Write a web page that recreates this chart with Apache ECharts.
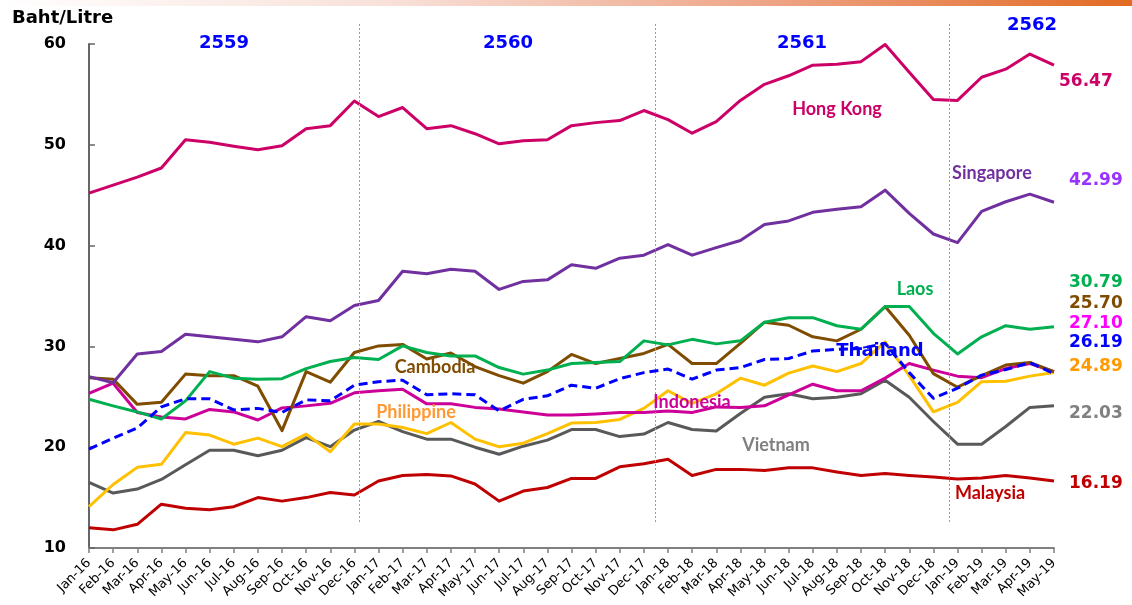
<!DOCTYPE html>
<html><head><meta charset="utf-8">
<script src="https://cdn.jsdelivr.net/npm/echarts@6/dist/echarts.min.js"></script>
<style>html,body{margin:0;padding:0;background:#fff}#c{width:1132px;height:605px}</style>
</head><body><div id="c"></div>
<script>
var months = ['Jan-16','Feb-16','Mar-16','Apr-16','May-16','Jun-16','Jul-16','Aug-16','Sep-16','Oct-16','Nov-16','Dec-16',
'Jan-17','Feb-17','Mar-17','Apr-17','May-17','Jun-17','Jul-17','Aug-17','Sep-17','Oct-17','Nov-17','Dec-17',
'Jan-18','Feb-18','Mar-18','Apr-18','May-18','Jun-18','Jul-18','Aug-18','Sep-18','Oct-18','Nov-18','Dec-18',
'Jan-19','Feb-19','Mar-19','Apr-19','May-19'];

var hongKong = [45.2,46.0,46.8,47.7,50.5,50.25,49.85,49.5,49.9,51.6,51.9,54.35,
52.8,53.7,51.6,51.9,51.1,50.1,50.4,50.5,51.9,52.2,52.4,53.4,
52.5,51.15,52.3,54.4,56.0,56.85,57.9,58.0,58.25,59.95,57.2,54.5,
54.4,56.7,57.5,59.0,57.9];
var singapore = [27.0,26.4,29.25,29.5,31.2,30.95,30.7,30.45,30.95,32.95,32.55,34.05,
34.55,37.45,37.2,37.65,37.45,35.65,36.45,36.6,38.1,37.75,38.75,39.05,
40.1,39.05,39.8,40.5,42.1,42.45,43.3,43.6,43.85,45.5,43.2,41.15,
40.3,43.4,44.35,45.1,44.3];
var laos = [24.75,24.1,23.5,22.8,24.6,27.5,26.85,26.75,26.8,27.8,28.5,28.9,
28.7,30.05,29.4,29.05,29.05,27.9,27.25,27.65,28.3,28.4,28.5,30.55,
30.15,30.7,30.25,30.55,32.4,32.85,32.85,32.05,31.7,33.95,33.95,31.3,
29.25,30.95,32.05,31.7,31.95];
var cambodia = [26.9,26.75,24.25,24.45,27.25,27.1,27.1,26.05,21.65,27.5,26.45,29.4,
30.05,30.2,28.75,29.35,28.0,27.1,26.35,27.5,29.2,28.3,28.8,29.3,
30.2,28.3,28.3,30.3,32.4,32.1,30.95,30.55,31.7,33.95,31.1,27.3,
25.95,27.1,28.15,28.4,27.5];
var thailand = [19.8,20.9,21.9,24.0,24.8,24.8,23.7,23.85,23.45,24.7,24.6,26.15,
26.5,26.65,25.2,25.3,25.2,23.6,24.75,25.1,26.15,25.85,26.8,27.4,
27.75,26.75,27.65,27.9,28.7,28.8,29.55,29.7,29.8,30.3,27.4,24.85,
25.85,27.15,27.7,28.4,27.3];
var indonesia = [25.35,26.35,23.45,23.0,22.8,23.75,23.5,22.7,23.9,24.1,24.35,25.4,
25.6,25.75,24.3,24.3,23.95,23.8,23.5,23.2,23.2,23.3,23.45,23.45,
23.6,23.45,24.0,23.95,24.1,25.2,26.25,25.6,25.6,26.85,28.3,27.65,
27.05,26.9,27.8,28.3,27.5];
var philippine = [14.1,16.3,18.0,18.3,21.45,21.2,20.3,20.9,20.05,21.3,19.55,22.3,
22.3,21.95,21.35,22.45,20.8,20.05,20.4,21.35,22.4,22.45,22.75,23.85,
25.6,24.35,25.3,26.85,26.15,27.35,28.05,27.5,28.3,30.45,27.1,23.5,
24.45,26.5,26.55,27.05,27.4];
var vietnam = [16.5,15.45,15.85,16.8,18.25,19.7,19.7,19.15,19.7,20.95,20.05,21.7,
22.55,21.55,20.8,20.8,20.0,19.3,20.1,20.7,21.75,21.75,21.05,21.3,
22.45,21.75,21.6,23.35,24.95,25.3,24.8,24.95,25.3,26.65,24.95,22.55,
20.3,20.3,22.05,23.95,24.1];
var malaysia = [12.0,11.8,12.35,14.35,13.95,13.8,14.1,15.0,14.65,15.0,15.5,15.25,
16.65,17.2,17.3,17.15,16.35,14.65,15.65,16.0,16.9,16.9,18.05,18.35,
18.8,17.2,17.8,17.8,17.7,17.95,17.95,17.55,17.2,17.4,17.2,17.05,
16.85,16.95,17.2,16.95,16.65];

var yearLabels = ['2559','2560','2561','2562'];
var dividerPositions = [11.2, 23.46, 35.64];
var endValues = ['56.47','42.99','30.79','25.70','27.10','26.19','24.89','22.03','16.19'];

var chart = echarts.init(document.getElementById('c'));

function lineSeries(name, data, color, dashed) {
  return {
    name: name, type: 'line', data: data, showSymbol: false, symbol: 'none',
    xAxisIndex: 0, yAxisIndex: 0, z: dashed ? 5 : 3,
    lineStyle: { color: color, width: 3, type: dashed ? [9, 5] : 'solid', cap: 'butt', join: 'round' },
    itemStyle: { color: color }, silent: true, animation: false
  };
}

function txt(text, x, y, color, font, align) {
  return { type: 'text', x: x, y: y, z: 100,
    style: { text: text, fill: color, font: font, textAlign: align || 'center', textVerticalAlign: 'middle', align: align || 'center', verticalAlign: 'middle' } };
}

var countryFont = 'bold 18px Lato';
var valueFont = 'bold 17px "DejaVu Sans"';
var yearFont = 'bold 18px "DejaVu Sans"';

var option = {
  animation: false,
  backgroundColor: '#ffffff',
  grid: [
    { left: 89, right: 78, top: 44, bottom: 57 },
    { left: 89, right: 78, top: 22, bottom: 83 }
  ],
  xAxis: [
    { type: 'category', gridIndex: 0, data: months, boundaryGap: false,
      axisLine: { lineStyle: { color: '#808080', width: 2 } },
      axisTick: { show: true, interval: 0, length: 5, lineStyle: { color: '#808080', width: 1.5 } },
      axisLabel: { interval: 0, rotate: 45, fontFamily: 'DejaVu Sans', fontSize: 13, color: '#000', margin: 13 },
      splitLine: { show: false } },
    { type: 'value', gridIndex: 1, min: 0, max: 40, show: false }
  ],
  yAxis: [
    { type: 'value', gridIndex: 0, min: 10, max: 60, interval: 10,
      axisLine: { show: true, lineStyle: { color: '#666666', width: 2 } },
      axisTick: { show: true, inside: true, length: 6, lineStyle: { color: '#666666', width: 1.5 } },
      axisLabel: { fontFamily: 'DejaVu Sans', fontWeight: 'bold', fontSize: 16, color: '#000', margin: 23 },
      splitLine: { show: false } },
    { type: 'value', gridIndex: 1, min: 0, max: 1, show: false }
  ],
  series: [
    { type: 'line', xAxisIndex: 1, yAxisIndex: 1, data: [], silent: true,
      markLine: { silent: true, symbol: ['none', 'none'], label: { show: false },
        lineStyle: { color: '#7f9fd0', type: [2, 2], width: 1 },
        data: dividerPositions.map(function (p) { return { xAxis: p }; }) } },
    lineSeries('Malaysia', malaysia, '#c00000'),
    lineSeries('Vietnam', vietnam, '#595959'),
    lineSeries('Philippine', philippine, '#ffc000'),
    lineSeries('Indonesia', indonesia, '#cc0099'),
    lineSeries('Cambodia', cambodia, '#7f4c00'),
    lineSeries('Laos', laos, '#00b050'),
    lineSeries('Singapore', singapore, '#7030a0'),
    lineSeries('Hong Kong', hongKong, '#cc0066'),
    lineSeries('Thailand', thailand, '#0000ff', true)
  ],
  graphic: [
    { type: 'rect', z: 100, shape: { x: 0, y: 0, width: 1132, height: 6 },
      style: { fill: new echarts.graphic.LinearGradient(0, 0, 1, 0, [
        { offset: 0, color: '#ffffff' }, { offset: 0.35, color: '#f8e0d8' }, { offset: 0.7, color: '#eda080' }, { offset: 1, color: '#e26a22' }]) } },
    txt('Baht/Litre', 12, 18, '#000', 'bold 18px "DejaVu Sans"', 'left'),
    txt(yearLabels[0], 224, 43, '#0000ff', yearFont),
    txt(yearLabels[1], 508, 43, '#0000ff', yearFont),
    txt(yearLabels[2], 802, 43, '#0000ff', yearFont),
    txt(yearLabels[3], 1032, 25, '#0000ff', yearFont),
    txt('Hong Kong', 837, 109, '#cc0066', countryFont),
    txt('Singapore', 992, 173, '#7030a0', countryFont),
    txt('Laos', 915, 289, '#00b050', countryFont),
    txt('Thailand', 880, 351, '#0000ff', 'bold 18px "DejaVu Sans"'),
    txt('Cambodia', 435, 367, '#7f4c00', countryFont),
    txt('Philippine', 416, 412, '#ff9933', countryFont),
    txt('Indonesia', 692, 402, '#cc0099', countryFont),
    txt('Vietnam', 776, 445, '#808080', countryFont),
    txt('Malaysia', 990, 493, '#c00000', countryFont),
    txt(endValues[0], 1059, 82, '#cc0066', valueFont, 'left'),
    txt(endValues[1], 1069, 181, '#9933ff', valueFont, 'left'),
    txt(endValues[2], 1069, 283, '#00b050', valueFont, 'left'),
    txt(endValues[3], 1069, 304, '#7f4c00', valueFont, 'left'),
    txt(endValues[4], 1069, 324, '#ff00ff', valueFont, 'left'),
    txt(endValues[5], 1069, 343, '#0000ff', valueFont, 'left'),
    txt(endValues[6], 1069, 367, '#ff9900', valueFont, 'left'),
    txt(endValues[7], 1069, 414, '#808080', valueFont, 'left'),
    txt(endValues[8], 1069, 484, '#c00000', valueFont, 'left')
  ]
};
chart.setOption(option);
</script></body></html>
